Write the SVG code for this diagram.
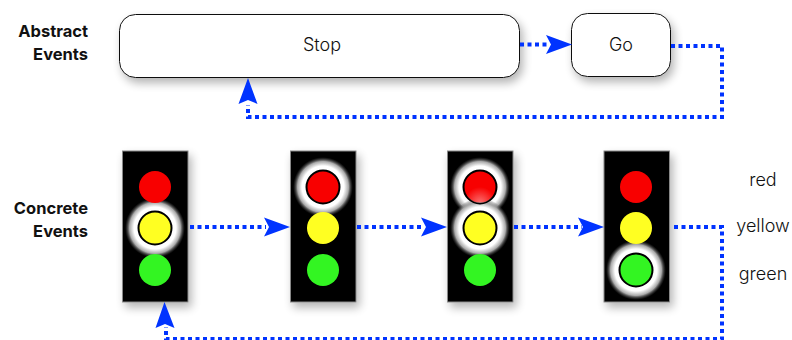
<svg xmlns="http://www.w3.org/2000/svg" width="792" height="340" viewBox="0 0 792 340">
<style>
.t{font-family:"Inter","Liberation Sans",sans-serif;font-size:18px;font-weight:300;fill:#111;text-anchor:middle}
.h{font-family:"Inter","Liberation Sans",sans-serif;font-size:16.500px;font-weight:700;fill:#111;text-anchor:end}
.box{fill:#fff;stroke:#111;stroke-width:1;filter:url(#sh)}
.panel{fill:#000;stroke:#888;stroke-width:1;filter:url(#sh)}
.on{stroke:#000;stroke-width:2}
.r{fill:#f80000}.y{fill:#ffff22}.g{fill:#33f522}
.c{fill:none;stroke:#0033ff;stroke-width:4;stroke-dasharray:4 3.500}
.a{fill:#0033ff}
</style>
<defs>
<filter id="sh" x="-20%" y="-30%" width="140%" height="160%"><feGaussianBlur in="SourceAlpha" stdDeviation="5"/><feOffset dx="3" dy="5"/><feComponentTransfer><feFuncA type="linear" slope="0.3"/></feComponentTransfer><feMerge><feMergeNode/><feMergeNode in="SourceGraphic"/></feMerge></filter>
<radialGradient id="glow"><stop offset="0.7" stop-color="#fff"/><stop offset="0.85" stop-color="#aaa"/><stop offset="1" stop-color="#444" stop-opacity="0"/></radialGradient>
<radialGradient id="shine" cx="0.5" cy="1" r="0.5"><stop offset="0" stop-color="#fff" stop-opacity="0.45"/><stop offset="1" stop-color="#fff" stop-opacity="0"/></radialGradient>
</defs>
<g id="labels">
<text class="h" x="88" y="36.500">Abstract</text>
<text class="h" x="88" y="59.500">Events</text>
<text class="h" x="88" y="213.500">Concrete</text>
<text class="h" x="88" y="236.500">Events</text>
</g>
<g id="stop"><rect class="box" x="119.500" y="14.500" width="400" height="63" rx="16"/><text class="t" x="322" y="50.500">Stop</text></g>
<g id="go"><rect class="box" x="571.500" y="13.500" width="99" height="63" rx="16"/><text class="t" x="621" y="50.500">Go</text></g>
<g id="light1"><rect class="panel" x="122.500" y="151" width="65.500" height="151"/>
<circle cx="155" cy="228" r="30" fill="url(#glow)"/>
<circle class="r" cx="155" cy="187" r="16"/><circle class="y on" cx="155" cy="228" r="16.500"/><circle class="g" cx="155" cy="270" r="16"/></g>
<g id="light2"><rect class="panel" x="290.500" y="151" width="65.500" height="151"/>
<circle cx="323" cy="187" r="30" fill="url(#glow)"/>
<circle class="r on" cx="323" cy="187" r="16.500"/><circle class="y" cx="323" cy="228" r="16"/><circle class="g" cx="323" cy="270" r="16"/></g>
<g id="light3"><rect class="panel" x="447.500" y="151" width="65.500" height="151"/>
<circle cx="480" cy="187" r="30" fill="url(#glow)"/><circle cx="480" cy="228" r="30" fill="url(#glow)"/>
<circle class="r on" cx="480" cy="187" r="16.500"/><circle cx="480" cy="187" r="16" fill="url(#shine)"/><circle class="y on" cx="480" cy="228" r="16.500"/><circle class="g" cx="480" cy="270" r="16"/></g>
<g id="light4"><rect class="panel" x="604" y="151" width="65.500" height="151"/>
<circle cx="636" cy="270" r="30" fill="url(#glow)"/>
<circle class="r" cx="636" cy="187" r="16"/><circle class="y" cx="636" cy="228" r="16"/><circle class="g on" cx="636" cy="270" r="16.500"/></g>
<g id="states">
<text class="t" x="763" y="185.500">red</text>
<text class="t" x="763" y="231.500">yellow</text>
<text class="t" x="763" y="279.500">green</text>
</g>
<g id="connectors">
<path class="c" d="M520 44.500H548"/><polygon class="a" points="572,44.500 546,35 551,44.500 546,54"/>
<path class="c" d="M671 46H722V117H248V105"/><polygon class="a" points="248,78 238.500,104 248,100 257.500,104"/>
<path class="c" d="M190 227H266"/><polygon class="a" points="290,227 264,217.500 269,227 264,236.500"/>
<path class="c" d="M357 227H424"/><polygon class="a" points="447,227 421,217.500 426,227 421,236.500"/>
<path class="c" d="M514 227H582"/><polygon class="a" points="604,227 578,217.500 583,227 578,236.500"/>
<path class="c" d="M674 227H722V339H166V327"/><polygon class="a" points="164.500,302 155.500,328 165,324 174.500,328"/>
</g>
</svg>
